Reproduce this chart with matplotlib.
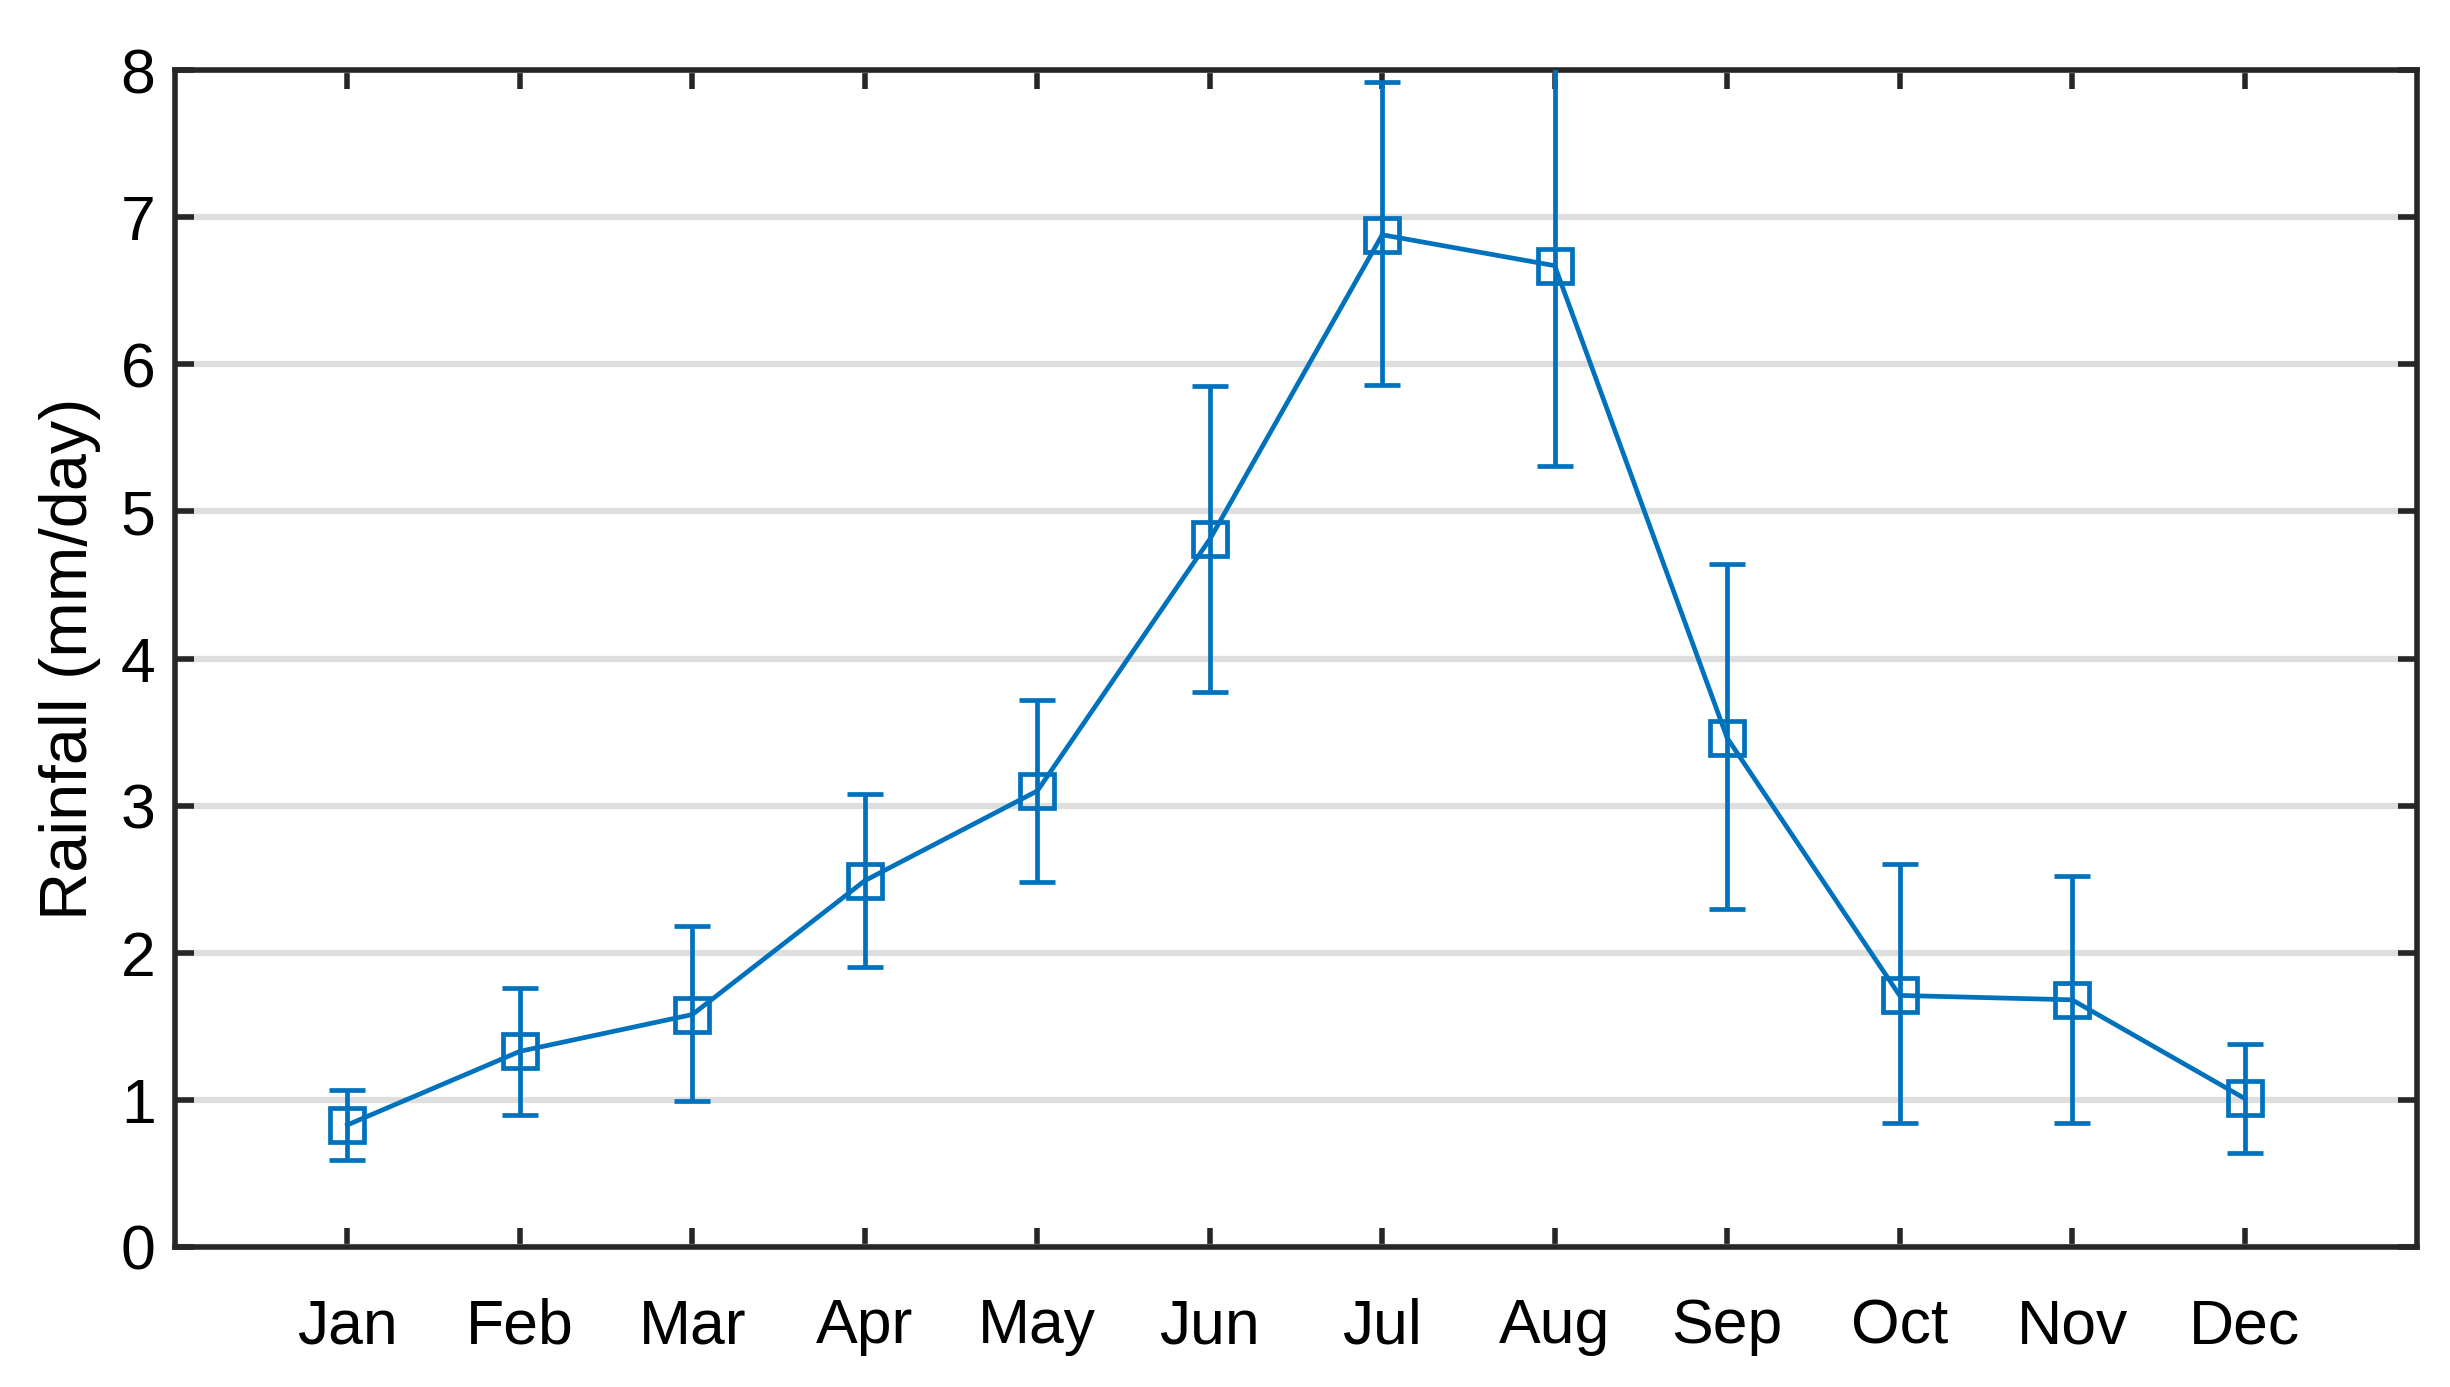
import matplotlib
matplotlib.use("Agg")
import matplotlib.pyplot as plt
import numpy as np

months = ["Jan", "Feb", "Mar", "Apr", "May", "Jun", "Jul", "Aug", "Sep", "Oct", "Nov", "Dec"]
rain = [0.83, 1.33, 1.58, 2.49, 3.10, 4.81, 6.88, 6.67, 3.46, 1.71, 1.68, 1.01]
upper = [1.07, 1.76, 2.18, 3.08, 3.72, 5.85, 7.92, 8.03, 4.64, 2.60, 2.52, 1.38]
lower = [0.59, 0.90, 0.99, 1.90, 2.48, 3.77, 5.86, 5.31, 2.30, 0.84, 0.84, 0.64]
yticks = [0, 1, 2, 3, 4, 5, 6, 7, 8]

plt.rcParams['font.family'] = ['Liberation Sans', 'DejaVu Sans']
color = "#0072BD"
dark = "#262626"

fig = plt.figure(figsize=(24.5, 13.87), dpi=100)
ax = fig.add_axes([175/2450, 1 - 1247/1387, (2417-175)/2450, (1247-70)/1387])

x = np.arange(1, len(months) + 1)
r = np.array(rain)
yerr = [r - np.array(lower), np.array(upper) - r]
ax.errorbar(x, r, yerr=yerr, color=color, lw=3.4, elinewidth=3.4, capsize=13,
            capthick=3.4, marker='s', markersize=24, markerfacecolor='none',
            markeredgewidth=3.4, markeredgecolor=color, zorder=3)

ax.set_xlim(0, 13)
ax.set_ylim(0, 8)
ax.set_xticks(x)
ax.set_xticklabels(months)
ax.set_yticks(yticks)
ax.set_yticklabels([str(v) for v in yticks])

ax.yaxis.grid(True, color="#DEDEDE", lw=4.5, zorder=0)
ax.set_axisbelow(True)

for s in ax.spines.values():
    s.set_linewidth(4)
    s.set_color(dark)

ax.tick_params(axis='both', which='major', direction='in', length=14, width=4,
               color=dark, labelsize=45, labelcolor='black',
               top=True, right=True)
ax.tick_params(axis='x', pad=36)
ax.tick_params(axis='y', pad=14)

ax.set_ylabel("Rainfall (mm/day)", fontsize=48, color='black', labelpad=14)

fig.savefig("out.png", dpi=100, facecolor='white')
